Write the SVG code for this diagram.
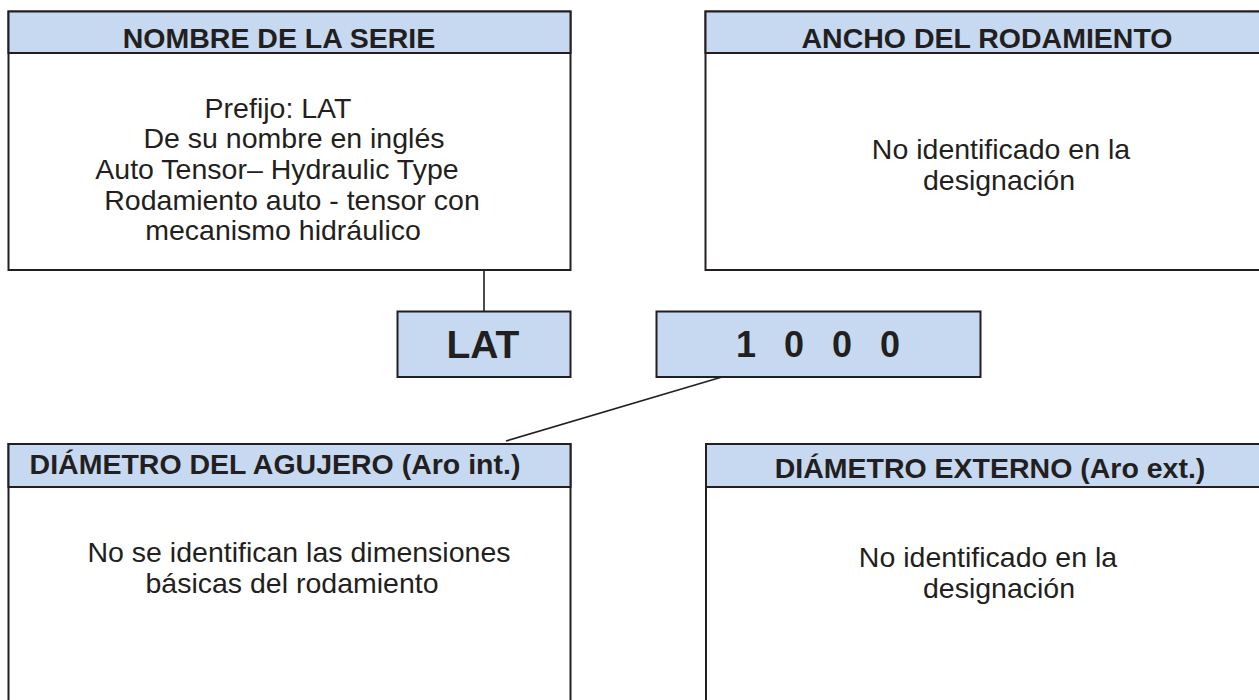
<svg xmlns="http://www.w3.org/2000/svg" width="1259" height="700" viewBox="0 0 1259 700">
<style>
.box{fill:#ffffff;stroke:#231f20;stroke-width:2}
.hdr{fill:#c6d9f0;stroke:#231f20;stroke-width:2}
.code{fill:#c6d9f0;stroke:#231f20;stroke-width:2}
.ht{font-family:"Liberation Sans",Arial,sans-serif;font-weight:bold;font-size:28.5px;fill:#231f20;text-anchor:middle}
.bt{font-family:"Liberation Sans",Arial,sans-serif;font-size:28.5px;fill:#231f20;text-anchor:middle}
.ct{font-family:"Liberation Sans",Arial,sans-serif;font-weight:bold;fill:#231f20}
.conn{stroke:#231f20;stroke-width:1.6;fill:none}
</style>
<rect width="1259" height="700" fill="#ffffff"/>
<g id="connectors">
<line class="conn" x1="484" y1="270" x2="484" y2="311.5"/>
<line class="conn" x1="722" y1="377" x2="506" y2="441"/>
</g>
<g id="nombre-serie">
<rect class="box" x="8.5" y="11.5" width="562" height="258.5"/>
<rect class="hdr" x="8.5" y="11.5" width="562" height="41.5"/>
<text class="ht" x="279" y="48">NOMBRE DE LA SERIE</text>
<text class="bt" x="278" y="118">Prefijo: LAT</text>
<text class="bt" x="294" y="148">De su nombre en inglés</text>
<text class="bt" x="277" y="179">Auto Tensor– Hydraulic Type</text>
<text class="bt" x="292" y="210">Rodamiento auto - tensor con</text>
<text class="bt" x="283" y="240">mecanismo hidráulico</text>
</g>
<g id="ancho-rodamiento">
<rect class="box" x="705.5" y="11.5" width="560" height="258.5"/>
<rect class="hdr" x="705.5" y="11.5" width="560" height="41.5"/>
<text class="ht" x="987" y="48">ANCHO DEL RODAMIENTO</text>
<text class="bt" x="1001" y="159">No identificado en la</text>
<text class="bt" x="999" y="190">designación</text>
</g>
<g id="prefijo-lat">
<rect class="code" x="397.5" y="311.5" width="173" height="65.5"/>
<text class="ct" x="483" y="358" font-size="39" text-anchor="middle">LAT</text>
</g>
<g id="codigo-1000">
<rect class="code" x="656.5" y="311.5" width="324" height="65.5"/>
<text class="ct" x="736" y="357" font-size="36" letter-spacing="9" xml:space="preserve">1 0 0 0</text>
</g>
<g id="diametro-agujero">
<rect class="box" x="8.5" y="444" width="562" height="300"/>
<rect class="hdr" x="8.5" y="444" width="562" height="43"/>
<text class="ht" x="275" y="474">DIÁMETRO DEL AGUJERO (Aro int.)</text>
<text class="bt" x="299" y="562">No se identifican las dimensiones</text>
<text class="bt" x="292" y="593">básicas del rodamiento</text>
</g>
<g id="diametro-externo">
<rect class="box" x="706" y="444" width="560" height="300"/>
<rect class="hdr" x="706" y="444" width="560" height="43"/>
<text class="ht" x="990" y="478">DIÁMETRO EXTERNO (Aro ext.)</text>
<text class="bt" x="988" y="567">No identificado en la</text>
<text class="bt" x="999" y="598">designación</text>
</g>
</svg>
